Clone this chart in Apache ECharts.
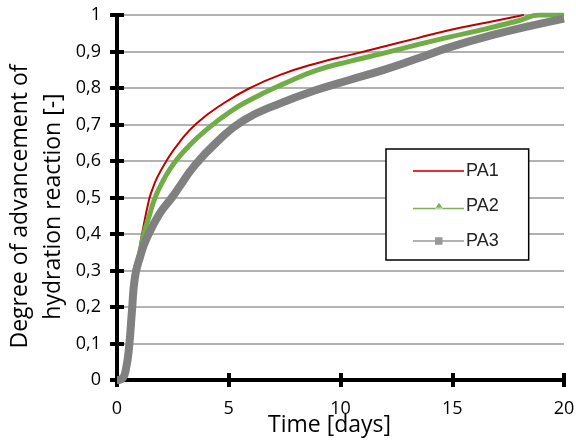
<!DOCTYPE html>
<html>
<head>
<meta charset="utf-8">
<script src="https://cdn.jsdelivr.net/npm/echarts@6/dist/echarts.min.js"></script>
<style>
html,body{margin:0;padding:0;background:#fff;}
#chart{width:576px;height:443px;}
</style>
</head>
<body>
<div id="chart"></div>
<script>
// 水化反应程度 (time in days, degree [-])
var pa1 = [[0,0],[0.3,0.01],[0.55,0.08],[0.7,0.2],[0.85,0.3],[0.98,0.35],[1.12,0.4],[1.43,0.493],[1.57,0.52],[1.8,0.555],[2.24,0.603],[2.8,0.652],[3.58,0.704],[4.79,0.759],[5.95,0.8],[7.3,0.836],[8.95,0.868],[10.4,0.89],[11.9,0.913],[13.4,0.936],[14.9,0.959],[16.5,0.979],[18.2,1.0]];
var pa2 = [[0,0],[0.3,0.01],[0.55,0.1],[0.67,0.22],[0.8,0.3],[0.98,0.337],[1.2,0.4],[1.43,0.447],[1.7,0.499],[2.1,0.55],[2.55,0.594],[3.2,0.64],[3.89,0.68],[5.06,0.735],[6.1,0.772],[7.4,0.81],[8.95,0.849],[10.4,0.873],[11.9,0.895],[13.4,0.918],[14.9,0.94],[16.5,0.962],[18,0.985],[18.9,1.0],[20,1.0]];
var pa3 = [[0,0],[0.25,0.005],[0.4,0.03],[0.54,0.09],[0.67,0.19],[0.8,0.28],[1.03,0.337],[1.34,0.39],[1.92,0.457],[2.46,0.5],[2.8,0.53],[3.44,0.585],[4.47,0.652],[5.68,0.712],[7.3,0.758],[8.95,0.795],[10.4,0.822],[11.9,0.849],[13.4,0.88],[14.9,0.912],[17,0.948],[18.5,0.97],[20,0.99]];
var xTicks = [0, 5, 10, 15, 20];
var yTicks = [0, 0.1, 0.2, 0.3, 0.4, 0.5, 0.6, 0.7, 0.8, 0.9, 1];

var chart = echarts.init(document.getElementById('chart'));
var baseFont = 'Open Sans';
// 图例图标：细线 + 小标记
var iconPA1 = 'path://M0,0L51,0L51,2L0,2Z';
var iconPA2 = 'path://M0,5L51,5L51,6.5L0,6.5ZM22,5.8L30,5.8L26,0Z';
var iconPA3 = 'path://M0,3L51,3L51,4.5L0,4.5ZM22,0L29.5,0L29.5,7.5L22,7.5Z';
var option = {
    animation: false,
    grid: {
        left: 117,
        right: 12,
        top: 15,
        bottom: 63,
        outerBoundsMode: 'none',
        containLabel: false
    },
    legend: {
        orient: 'vertical',
        left: 386,
        top: 149,
        itemWidth: 51,
        itemHeight: 14,
        itemGap: 17,
        padding: [13, 30, 10, 27],
        borderColor: '#000',
        borderWidth: 1.5,
        backgroundColor: '#fff',
        textStyle: {
            fontFamily: 'Liberation Sans',
            fontSize: 18,
            color: '#222',
            padding: [0, 0, 0, -3]
        },
        data: [
            { name: 'PA1', icon: iconPA1, itemStyle: { color: '#e03030' } },
            { name: 'PA2', icon: iconPA2, itemStyle: { color: '#7bb05a' } },
            { name: 'PA3', icon: iconPA3, itemStyle: { color: '#999' } }
        ]
    },
    xAxis: [{
        type: 'value',
        min: xTicks[0],
        max: xTicks[xTicks.length - 1],
        interval: 5,
        name: 'Time [days]',
        nameLocation: 'middle',
        nameGap: 34,
        nameMoveOverlap: false,
        nameTextStyle: {
            fontFamily: baseFont,
            fontSize: 23,
            color: '#000',
            padding: [0, 22, 0, 0]
        },
        axisLine: { lineStyle: { color: '#000', width: 4 } },
        axisTick: { length: 7, lineStyle: { color: '#000', width: 4 } },
        axisLabel: { margin: 20, fontFamily: baseFont, fontSize: 18, color: '#000' },
        splitLine: { show: false }
    }, {
        // 刻度穿过轴线，补一组朝内的刻度
        type: 'value',
        position: 'bottom',
        min: xTicks[0],
        max: xTicks[xTicks.length - 1],
        interval: 5,
        axisLine: { show: false },
        axisTick: { inside: true, length: 7, lineStyle: { color: '#000', width: 4 } },
        axisLabel: { show: false },
        splitLine: { show: false }
    }],
    yAxis: [{
        type: 'value',
        min: yTicks[0],
        max: yTicks[yTicks.length - 1],
        interval: 0.1,
        name: 'Degree of advancement of\nhydration reaction [-]',
        nameLocation: 'middle',
        nameGap: 47,
        nameMoveOverlap: false,
        nameTextStyle: {
            fontFamily: baseFont,
            fontSize: 23,
            lineHeight: 33,
            color: '#000',
            padding: [0, 18, 0, 0]
        },
        axisLine: { lineStyle: { color: '#000', width: 4 } },
        axisTick: { length: 7, lineStyle: { color: '#000', width: 4 } },
        axisLabel: {
            margin: 16,
            fontFamily: baseFont,
            fontSize: 18,
            color: '#000',
            formatter: function (v) {
                return String(Math.round(v * 10) / 10).replace('.', ',');
            }
        },
        splitLine: { show: true, lineStyle: { color: '#999', width: 1.5 } }
    }, {
        type: 'value',
        position: 'left',
        min: yTicks[0],
        max: yTicks[yTicks.length - 1],
        interval: 0.1,
        axisLine: { show: false },
        axisTick: { inside: true, length: 7, lineStyle: { color: '#000', width: 4 } },
        axisLabel: { show: false },
        splitLine: { show: false }
    }],
    series: [{
        name: 'PA1',
        type: 'line',
        data: pa1,
        smooth: 0.5,
        showSymbol: false,
        lineStyle: { color: '#c00000', width: 2 },
        itemStyle: { color: '#c00000' }
    }, {
        name: 'PA2',
        type: 'line',
        data: pa2,
        smooth: 0.5,
        showSymbol: false,
        lineStyle: { color: '#70ad47', width: 5 },
        itemStyle: { color: '#70ad47' }
    }, {
        name: 'PA3',
        type: 'line',
        data: pa3,
        smooth: 0.5,
        showSymbol: false,
        lineStyle: { color: '#808080', width: 8 },
        itemStyle: { color: '#808080' }
    }]
};
chart.setOption(option);
</script>
</body>
</html>
